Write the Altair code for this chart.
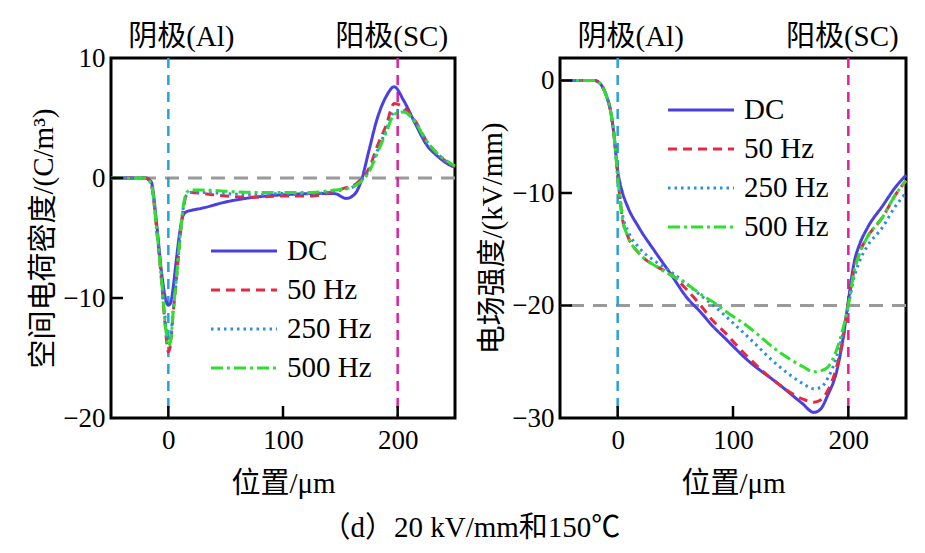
import altair as alt
import pandas as pd

FONT = "Liberation Serif, Noto Sans CJK SC"

series = ["DC", "50 Hz", "250 Hz", "500 Hz"]
colors = ["#4a3fe0", "#e8283c", "#2b8de8", "#2ee02e"]
dashes = [[1, 0], [9, 6], [2.5, 4], [12, 4, 3, 4]]

# ---- left panel: space charge density (C/m^3) vs position (um)
x_left = [-50, -30, -20, -15, -10, -6, -3, 0, 2, 4, 7, 10, 13, 16, 20, 30, 50, 75, 100,
          125, 145, 155, 162, 168, 175, 182, 190, 197, 205, 215, 225, 235, 245, 250]
rho_dc = [0, 0, 0, -0.3, -4, -7.8, -9.8, -10.6, -10.4, -9.3, -6.8, -4.5, -3.1, -2.8, -2.7,
          -2.5, -2.0, -1.6, -1.4, -1.3, -1.3, -1.7, -1.4, -0.3, 2.3, 4.9, 6.8, 7.6,
          6.5, 4.6, 2.8, 1.8, 1.1, 0.9]
rho_50 = [0, 0, 0, -0.5, -4.5, -8.5, -12, -14.5, -13.8, -11.5, -8.5, -5.2, -2.6, -1.4, -1.2,
          -1.3, -1.5, -1.6, -1.5, -1.5, -1.1, -0.8, -0.6, -0.1, 0.8, 2.6, 4.4, 6.2,
          5.9, 4.8, 3.1, 2.0, 1.2, 1.0]
rho_250 = [0, 0, 0, -0.5, -4.3, -8.2, -11.5, -13.5, -13.2, -11.2, -8.3, -5.0, -2.5, -1.4, -1.2,
           -1.2, -1.3, -1.4, -1.3, -1.3, -1.1, -0.9, -0.7, -0.2, 0.6, 2.2, 4.0, 5.5,
           5.6, 4.7, 3.1, 2.0, 1.2, 1.0]
rho_500 = [0, 0, 0, -0.5, -4.4, -8.4, -11.8, -14.0, -13.6, -11.4, -8.4, -5.1, -2.4, -1.2, -1.0,
           -1.0, -1.1, -1.2, -1.2, -1.2, -1.0, -0.9, -0.7, -0.3, 0.5, 2.0, 3.8, 5.3,
           5.5, 4.7, 3.1, 2.0, 1.3, 1.0]

# ---- right panel: electric field (kV/mm) vs position (um)
x_right = [-50, -30, -20, -15, -10, -6, -3, 0, 2, 4, 9, 18, 33, 46, 60, 72, 83, 92, 112,
           141, 160, 170, 176, 182, 190, 195, 200, 205, 210, 216, 230, 240, 250]
E_dc = [0, 0, 0, -0.3, -1.3, -2.8, -5, -8, -9.1, -9.9, -11.3, -13, -15.3, -17.2, -19.3,
        -20.6, -21.9, -22.8, -24.8, -27.1, -28.7, -29.5, -29.2, -28, -25.8, -23.2, -19.6,
        -16.2, -14.5, -13.2, -11.1, -9.6, -8.4]
E_50 = [0, 0, 0, -0.3, -1.3, -2.8, -5, -8.5, -10.5, -12.2, -13.9, -15.3, -16.5, -17.2, -18.6,
        -20, -21.4, -22.3, -24.5, -27.1, -28.3, -28.6, -28.4, -27.6, -25.4, -23.2, -19.8,
        -16.8, -15.2, -14, -12.1, -10.3, -8.9]
E_250 = [0, 0, 0, -0.3, -1.3, -2.8, -5, -8.5, -10.3, -11.8, -13.4, -14.8, -16.1, -17, -18.1,
         -19.1, -20, -20.8, -22.7, -25.5, -26.9, -27.4, -27.3, -26.5, -24.5, -22.6, -20,
         -17.5, -16, -14.8, -13, -11.3, -10]
E_500 = [0, 0, 0, -0.3, -1.3, -2.8, -5, -8.5, -10.5, -12.2, -13.9, -15.3, -16.5, -17.3, -18.1,
         -19, -19.7, -20.4, -21.8, -24.2, -25.4, -25.9, -25.8, -25.5, -23.9, -22.2, -20,
         -17, -15.3, -14, -12.1, -10.3, -8.9]

electrodes = ["阴极(Al)", "阳极(SC)"]
electrode_x = [0, 200]
x_ticks = [0, 100, 200]


def long_df(x, ys):
    rows = []
    for s, y in zip(series, ys):
        for xi, yi in zip(x, y):
            rows.append({"x": xi, "y": yi, "s": s})
    return pd.DataFrame(rows)


def panel(df, ydomain, yticks, inner_yticks, href, ytitle, W, H, lx, ly):
    xs = alt.Scale(domain=[-50, 250], nice=False, zero=False)
    ys = alt.Scale(domain=ydomain, nice=False, zero=False)
    xaxis = alt.Axis(values=x_ticks, tickSize=0, domain=False, grid=False,
                     labelFontSize=27, labelFont=FONT, labelPadding=9, labelColor="black",
                     title="位置/μm", titleFontSize=29, titleFont=FONT,
                     titleFontWeight="normal", titlePadding=16, titleColor="black")
    yaxis = alt.Axis(values=yticks, tickSize=0, domain=False, grid=False,
                     labelFontSize=27, labelFont=FONT, labelPadding=6, labelColor="black",
                     title=ytitle, titleFontSize=29, titleFont=FONT,
                     titleFontWeight="normal", titlePadding=4, titleColor="black")
    X = lambda: alt.X("x:Q", scale=xs, axis=xaxis)
    Y = lambda: alt.Y("y:Q", scale=ys, axis=yaxis)

    hline = alt.Chart(pd.DataFrame({"y": [href]})).mark_rule(
        color="#9a9a9a", strokeDash=[14, 9], strokeWidth=2.8).encode(y=Y())
    vcath = alt.Chart(pd.DataFrame({"x": [electrode_x[0]]})).mark_rule(
        color="#27a2d8", strokeDash=[10, 7], strokeWidth=2.5).encode(x=X())
    vanode = alt.Chart(pd.DataFrame({"x": [electrode_x[1]]})).mark_rule(
        color="#e0209e", strokeDash=[10, 7], strokeWidth=2.5).encode(x=X())

    leg = alt.Legend(title=None, orient="none", legendX=lx, legendY=ly,
                     symbolType="M-2,0H2", symbolSize=1089, symbolStrokeWidth=3,
                     labelFontSize=29, labelFont=FONT, labelColor="black",
                     labelOffset=25, rowPadding=6, padding=0)
    lines = alt.Chart(df).mark_line(interpolate="monotone", strokeWidth=3).encode(
        x=X(), y=Y(),
        color=alt.Color("s:N", scale=alt.Scale(domain=series, range=colors), legend=leg),
        strokeDash=alt.StrokeDash("s:N", scale=alt.Scale(domain=series, range=dashes), legend=leg),
    )

    ytick = alt.Chart(pd.DataFrame({"y": inner_yticks})).mark_rule(
        color="black", strokeWidth=2.5).encode(y=Y(), x=alt.value(0), x2=alt.value(12))
    xtick = alt.Chart(pd.DataFrame({"x": x_ticks})).mark_rule(
        color="black", strokeWidth=2.5).encode(x=X(), y=alt.value(H), y2=alt.value(H - 12))

    t1 = alt.Chart(pd.DataFrame({"x": [electrode_x[0]], "t": [electrodes[0]]})).mark_text(
        font=FONT, fontSize=29, dx=13, align="center", baseline="alphabetic", color="black"
    ).encode(x=X(), y=alt.value(-12), text="t:N")
    t2 = alt.Chart(pd.DataFrame({"x": [electrode_x[1]], "t": [electrodes[1]]})).mark_text(
        font=FONT, fontSize=29, dx=-6, align="center", baseline="alphabetic", color="black"
    ).encode(x=X(), y=alt.value(-12), text="t:N")

    return alt.layer(hline, vcath, vanode, lines, ytick, xtick, t1, t2).properties(
        width=W, height=H)


left = panel(long_df(x_left, [rho_dc, rho_50, rho_250, rho_500]),
             [-20, 10], [-20, -10, 0, 10], [-10, 0], 0,
             "空间电荷密度/(C/m³)", 344, 360, 115, 175)
right = panel(long_df(x_right, [E_dc, E_50, E_250, E_500]),
              [-30, 2], [-30, -20, -10, 0], [-20, -10, 0], -20,
              "电场强度/(kV/mm)", 346, 360, 123, 34)

chart = alt.hconcat(left, right, spacing=14).resolve_scale(
    color="independent", strokeDash="independent"
).properties(
    title=alt.TitleParams("（d）20 kV/mm和150℃", orient="bottom", anchor="middle",
                          fontSize=29, font=FONT, fontWeight="normal", color="black",
                          offset=14),
    padding={"left": 28, "top": 21, "right": 5, "bottom": 5},
    background="white",
).configure_view(stroke="black", strokeWidth=3)

chart.save("out.html", embed_options={"renderer": "svg", "actions": False})
